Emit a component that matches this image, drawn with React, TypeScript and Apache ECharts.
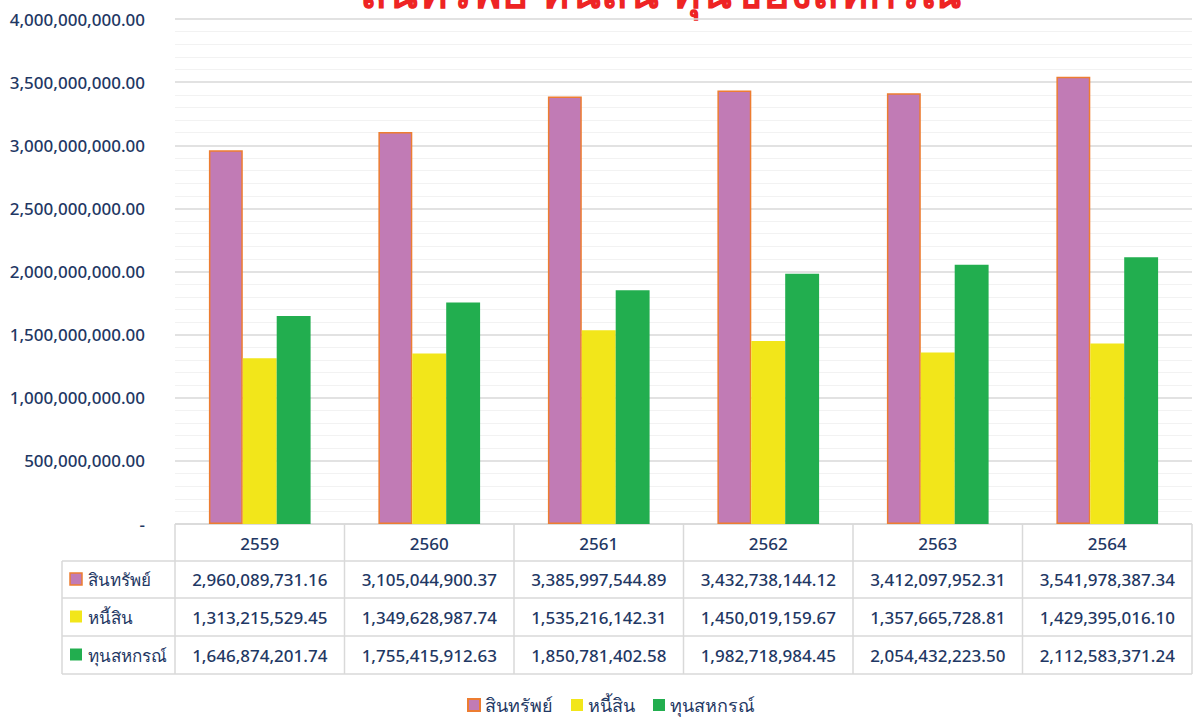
import React, { useEffect, useRef } from "react";
import * as echarts from "echarts";

const years = ["2559", "2560", "2561", "2562", "2563", "2564"];
const seriesNames = ["สินทรัพย์", "หนี้สิน", "ทุนสหกรณ์"];
const assets = [2960089731.16, 3105044900.37, 3385997544.89, 3432738144.12, 3412097952.31, 3541978387.34];
const liabilities = [1313215529.45, 1349628987.74, 1535216142.31, 1450019159.67, 1357665728.81, 1429395016.1];
const equity = [1646874201.74, 1755415912.63, 1850781402.58, 1982718984.45, 2054432223.5, 2112583371.24];
const titleText = "สินทรัพย์ หนี้สิน ทุนของสหกรณ์";

const FONT = "'Noto Sans', 'DejaVu Sans', sans-serif";
const NAVY = "#1F3864";
const fmt = (v: number) =>
  v.toLocaleString("en-US", { minimumFractionDigits: 2, maximumFractionDigits: 2 });

export default function App() {
  const ref = useRef<HTMLDivElement>(null);
  useEffect(() => {
    if (!ref.current) return;
    const chart = echarts.init(ref.current, null, { renderer: "svg" });
    const W = 1195;
    const gridL = 175, gridR = 3, gridT = 19, axisY = 524;
    const plotW = W - gridL - gridR;
    const colW = plotW / years.length;
    const rowH = [524, 561, 598, 636, 674];
    const rowHeadL = 62;
    const lineColor = "#D9D9D9";
    const seriesData = [assets, liabilities, equity];
    const fills = ["#C17BB5", "#F2E61A", "#22AE4F"];
    const borders = ["#ED7D31", "#F2E61A", "#22AE4F"];

    const g: any[] = [];
    g.push({ type: "line", shape: { x1: gridL, y1: rowH[0], x2: W - gridR, y2: rowH[0] }, style: { stroke: lineColor, lineWidth: 1.5 } });
    for (let r = 1; r < rowH.length; r++) {
      g.push({ type: "line", shape: { x1: rowHeadL, y1: rowH[r], x2: W - gridR, y2: rowH[r] }, style: { stroke: lineColor, lineWidth: 1.5 } });
    }
    for (let c = 0; c <= years.length; c++) {
      const x = gridL + c * colW;
      g.push({ type: "line", shape: { x1: x, y1: rowH[0], x2: x, y2: rowH[4] }, style: { stroke: lineColor, lineWidth: 1.5 } });
    }
    g.push({ type: "line", shape: { x1: rowHeadL, y1: rowH[1], x2: rowHeadL, y2: rowH[4] }, style: { stroke: lineColor, lineWidth: 1.5 } });
    for (let s = 0; s < 3; s++) {
      const yc = (rowH[s + 1] + rowH[s + 2]) / 2;
      g.push({ type: "rect", shape: { x: 70, y: yc - 6.5, width: 12, height: 12 }, style: { fill: fills[s], stroke: borders[s], lineWidth: s === 0 ? 1.5 : 0 } });
      g.push({ type: "text", x: 88, y: yc, style: { text: seriesNames[s], font: `500 17px ${FONT}`, fill: NAVY, textVerticalAlign: "middle", textAlign: "left" } });
      for (let c = 0; c < years.length; c++) {
        g.push({ type: "text", x: gridL + (c + 0.5) * colW, y: yc, style: { text: fmt(seriesData[s][c]), font: `500 17px ${FONT}`, fill: NAVY, textAlign: "center", textVerticalAlign: "middle" } });
      }
    }
    g.push({ type: "text", x: 661, y: 13, style: { text: titleText, font: `bold 45px ${FONT}`, fill: "#EE2424", textAlign: "center", textVerticalAlign: "bottom" } });

    chart.setOption({
      animation: false,
      backgroundColor: "#fff",
      textStyle: { fontFamily: FONT },
      grid: { left: gridL, right: gridR, top: gridT, bottom: 719 - axisY, containLabel: false },
      legend: {
        bottom: 0,
        left: 462,
        icon: "rect",
        itemWidth: 12,
        itemHeight: 12,
        itemGap: 18,
        textStyle: { fontSize: 18, fontWeight: 500, color: NAVY, fontFamily: FONT },
        data: seriesNames,
      },
      xAxis: {
        type: "category",
        data: years,
        axisLine: { show: false },
        axisTick: { show: false },
        axisLabel: { color: NAVY, fontSize: 17, fontWeight: 500, margin: 11, fontFamily: FONT },
      },
      yAxis: {
        type: "value",
        min: 0,
        max: 4000000000,
        interval: 500000000,
        axisLine: { show: false },
        axisTick: { show: false },
        axisLabel: {
          color: NAVY,
          fontSize: 17,
          fontWeight: 500,
          margin: 30,
          fontFamily: FONT,
          formatter: (v: number) => (v === 0 ? "-" : fmt(v)),
        },
        splitLine: { lineStyle: { color: "#D9D9D9", width: 1.5 } },
        minorTick: { show: false, splitNumber: 5 },
        minorSplitLine: { show: true, lineStyle: { color: "#F2F2F2", width: 1 } },
      },
      series: seriesData.map((d, i) => ({
        name: seriesNames[i],
        type: "bar",
        data: d,
        barGap: "0%",
        barCategoryGap: "40%",
        itemStyle: { color: fills[i], borderColor: borders[i], borderWidth: i === 0 ? 1.5 : 0 },
      })),
      graphic: g,
    });
    return () => chart.dispose();
  }, []);
  return <div ref={ref} style={{ position: "fixed", left: 0, top: 0, width: 1195, height: 719 }} />;
}
